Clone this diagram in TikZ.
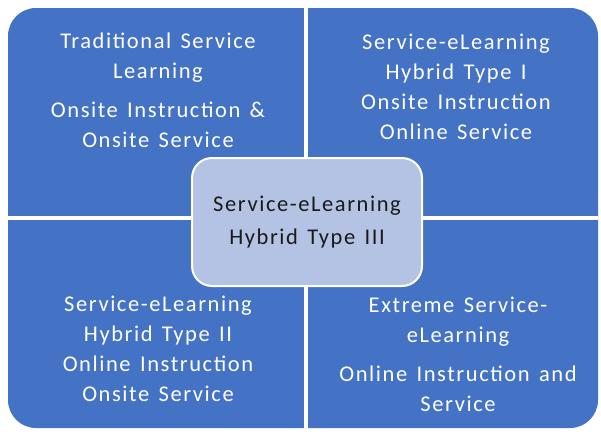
\documentclass[tikz,border=0pt]{standalone}
\usepackage{fontspec}
\setmainfont{Carlito}[LetterSpace=7,WordSpace=1.4]
\definecolor{quadblue}{HTML}{4472C4}
\definecolor{hubfill}{HTML}{B4C2E4}
\definecolor{hubtext}{HTML}{1A1A1A}
\begin{document}
\begin{tikzpicture}[x=1pt,y=-1pt,
  quadtext/.style={text=white,align=center,inner sep=0pt,
    font=\fontsize{22.5}{30}\selectfont},
  hub/.style={draw=white,line width=2pt,fill=hubfill,rounded corners=20pt,
    minimum width=230pt,minimum height=128pt,align=center,text=hubtext,
    font=\fontsize{22.5}{33}\selectfont}]
  \useasboundingbox (0,0) rectangle (601,434);
  % blue panel split into four quarters by white gaps
  \fill[quadblue,rounded corners=28pt] (8,8) rectangle (598,428);
  \draw[white,line width=3.5pt] (306,8) coordinate (gt) -- (306,428) coordinate (gb);
  \draw[white,line width=3.5pt] (8,218) coordinate (gl) -- (598,218) coordinate (gr);
  % quarter labels
  \node[quadtext] (tl) at (158,90) {Traditional Service\\Learning\\[9pt]Onsite Instruction \&\\Onsite Service};
  \node[quadtext] (tr) at (456,87) {Service-eLearning\\Hybrid Type I\\Onsite Instruction\\Online Service};
  \node[quadtext] (bl) at (158,349) {Service-eLearning\\Hybrid Type II\\Online Instruction\\Onsite Service};
  \node[quadtext] (br) at (458,354) {Extreme Service-\\eLearning\\[9pt]Online Instruction and\\Service};
  % central hub
  \node[hub] (hub) at (307,222) {Service-eLearning\\Hybrid Type III};
\end{tikzpicture}
\end{document}
